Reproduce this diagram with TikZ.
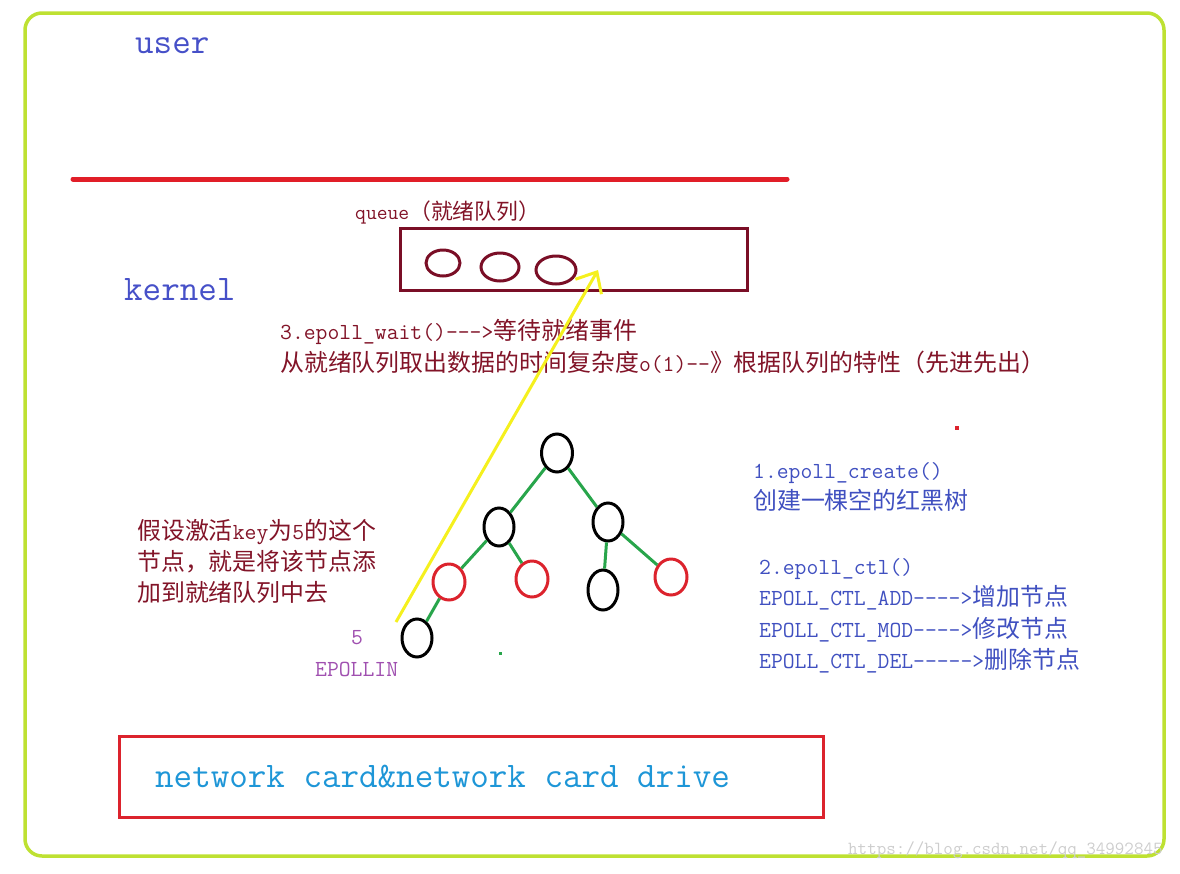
\documentclass[tikz,border=0pt]{standalone}
\usepackage{fontspec}
\newfontfamily\cjk[Scale=1.04]{Noto Sans CJK SC}
\usetikzlibrary{shapes.geometric,arrows.meta}
\definecolor{limec}{RGB}{190,225,50}
\definecolor{linered}{RGB}{225,30,40}
\definecolor{boxred}{RGB}{220,35,45}
\definecolor{maroon}{RGB}{122,14,38}
\definecolor{darkred}{RGB}{130,20,40}
\definecolor{userblue}{RGB}{70,80,200}
\definecolor{rblue}{RGB}{64,80,192}
\definecolor{purp}{RGB}{160,80,176}
\definecolor{netblue}{RGB}{30,150,215}
\definecolor{treegreen}{RGB}{40,165,75}
\definecolor{yellowc}{RGB}{245,240,30}
\definecolor{wm}{RGB}{205,205,205}
\newcommand\zh[1]{{\cjk #1}}
\tikzset{
  txt/.style={inner sep=0pt, anchor=base west},
  bigf/.style={font=\ttfamily\fontsize{36}{40}\selectfont},
  midf/.style={font=\ttfamily\fontsize{23}{28}\selectfont},
  qf/.style={font=\ttfamily\fontsize{21}{26}\selectfont},
  bknode/.style={ellipse, draw=black, line width=3pt, inner sep=0pt, minimum width=30pt, minimum height=38pt},
  rdnode/.style={ellipse, draw=boxred, line width=3pt, inner sep=0pt, minimum width=32pt, minimum height=36pt},
  qnode/.style={ellipse, draw=maroon, line width=3pt, inner sep=0pt},
  tedge/.style={draw=treegreen, line width=3pt},
}
\begin{document}
\begin{tikzpicture}[x=1pt,y=-1pt]
\useasboundingbox (0,0) rectangle (1180,873);
% outer frame
\draw[limec, line width=3.5pt, rounded corners=17pt] (25,13) rectangle (1164,856);
% user / kernel separator
\coordinate (sepL) at (73,179);
\coordinate (sepR) at (787,179);
\draw[linered, line width=5pt, line cap=round] (sepL) -- (sepR);
\node[txt, bigf, text=userblue] (user) at (135,53) {user};
\node[txt, bigf, text=userblue] (kernel) at (124,300) {kernel};
% queue
\node[txt, qf, text=darkred] (qlabel) at (355,219) {queue\zh{（就绪队列）}};
\node[draw=maroon, line width=3pt, minimum width=347pt, minimum height=62pt, inner sep=0pt] (queue) at (573.5,259) {};
\node[qnode, minimum width=34pt, minimum height=26pt] (q1) at (443,263) {};
\node[qnode, minimum width=38pt, minimum height=28pt] (q2) at (500,267) {};
\node[qnode, minimum width=40pt, minimum height=28pt] (q3) at (556,270) {};
% epoll_wait text
\node[txt, midf, text=darkred] (w1) at (280,339) {3.epoll\_wait()--->\zh{等待就绪事件}};
\node[txt, midf, text=darkred] (w2) at (280,371) {\zh{从就绪队列取出数据的时间复杂度}o(1)--\zh{》根据队列的特性（先进先出）}};
% tree
\node[bknode, minimum width=31pt] (r) at (557,453) {};
\node[bknode] (a) at (499,527) {};
\node[bknode] (b) at (608,522) {};
\node[rdnode] (c) at (449,582) {};
\node[rdnode] (d) at (532,579) {};
\node[bknode, minimum height=40pt] (e) at (603,590) {};
\node[rdnode] (f) at (671,577) {};
\node[bknode] (g) at (417,638) {};
\draw[tedge] (r) -- (a);
\draw[tedge] (r) -- (b);
\draw[tedge] (a) -- (c);
\draw[tedge] (a) -- (d);
\draw[tedge] (b) -- (e);
\draw[tedge] (b) -- (f);
\draw[tedge] (c) -- (g);
\fill[treegreen] (499,652) rectangle (502,655);
\fill[boxred] (955,426) rectangle (959,430);
% yellow arrow
\coordinate (ys) at (396,622);
\coordinate (yt) at (598,270);
\draw[yellowc, line width=3pt, -{Straight Barb[length=17pt, width=30pt, line width=3pt]}] (ys) -- (yt);
% left text
\node[txt, midf, text=darkred] (l1) at (137,539) {\zh{假设激活}key\zh{为}5\zh{的这个}};
\node[txt, midf, text=darkred] (l2) at (137,570) {\zh{节点，就是将该节点添}};
\node[txt, midf, text=darkred] (l3) at (137,601) {\zh{加到就绪队列中去}};
\node[txt, midf, text=purp] (five) at (351,644) {5};
\node[txt, midf, text=purp] (epin) at (315,676) {EPOLLIN};
% right text
\node[txt, midf, text=rblue] (c1) at (753,478) {1.epoll\_create()};
\node[txt, midf, text=rblue] (c2) at (753,509) {\zh{创建一棵空的红黑树}};
\node[txt, midf, text=rblue] (t1) at (759,574) {2.epoll\_ctl()};
\node[txt, midf, text=rblue] (t2) at (759,605) {EPOLL\_CTL\_ADD---->\zh{增加节点}};
\node[txt, midf, text=rblue] (t3) at (759,637) {EPOLL\_CTL\_MOD---->\zh{修改节点}};
\node[txt, midf, text=rblue] (t4) at (759,668) {EPOLL\_CTL\_DEL----->\zh{删除节点}};
% network card box
\node[draw=boxred, line width=3pt, minimum width=704pt, minimum height=81pt, inner sep=0pt] (nic) at (471,776.5) {};
\node[txt, bigf, text=netblue] (nictext) at (155,787) {network card\&network card drive};
% watermark
\node[txt, font=\ttfamily\fontsize{18.5}{20}\selectfont, text=wm] (wmark) at (848,854) {https://blog.csdn.net/qq\_34992845};
\end{tikzpicture}
\end{document}
